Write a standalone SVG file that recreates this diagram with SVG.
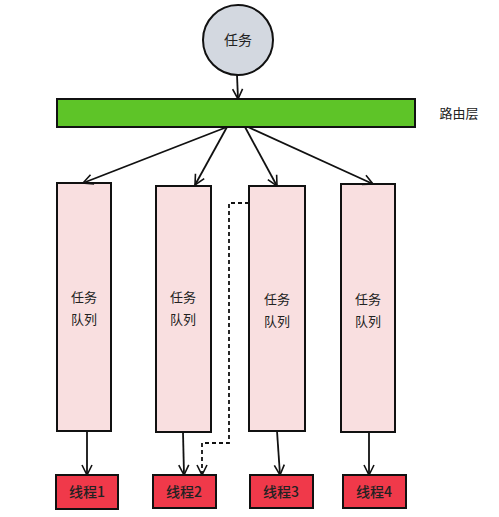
<svg xmlns="http://www.w3.org/2000/svg" width="499" height="517" viewBox="0 0 499 517">
<defs>
<marker id="ah" viewBox="0 0 12 12" refX="11" refY="6" markerWidth="12" markerHeight="12" markerUnits="userSpaceOnUse" orient="auto">
<path d="M1,1 L11,6 L1,11" fill="none" stroke="#111" stroke-width="1.6"/>
</marker>
</defs>
<style>
text{font-family:"Noto Sans CJK SC","Noto Sans",sans-serif;fill:#222;text-anchor:middle}
.q{fill:#f9dfe0;stroke:#111;stroke-width:2}
.t{fill:#f0394a;stroke:#111;stroke-width:2}
.c{fill:none;stroke:#111;stroke-width:1.8;marker-end:url(#ah)}
.qt{font-size:13px}
.tt{font-size:14px;font-weight:500}
</style>
<rect width="499" height="517" fill="#fff"/>
<g id="task">
<circle cx="238" cy="40" r="35" fill="#d3d8e0" stroke="#111" stroke-width="2"/>
<text x="238" y="45" font-size="14">任务</text>
</g>
<g id="router">
<rect x="57" y="99" width="358" height="28" fill="#5ec428" stroke="#111" stroke-width="2"/>
<text x="459" y="118" font-size="13">路由层</text>
</g>
<g id="q1"><rect class="q" x="57" y="183" width="54" height="248"/><text class="qt" x="84" y="302">任务</text><text class="qt" x="84" y="324">队列</text></g>
<g id="q2"><rect class="q" x="156" y="186" width="55" height="246"/><text class="qt" x="183" y="302">任务</text><text class="qt" x="183" y="324">队列</text></g>
<g id="q3"><rect class="q" x="249" y="186" width="56" height="245"/><text class="qt" x="277" y="304">任务</text><text class="qt" x="277" y="326">队列</text></g>
<g id="q4"><rect class="q" x="341" y="184" width="54" height="248"/><text class="qt" x="368" y="304">任务</text><text class="qt" x="368" y="326">队列</text></g>
<g id="t1"><rect class="t" x="56" y="475" width="62" height="34"/><text class="tt" x="87" y="497">线程1</text></g>
<g id="t2"><rect class="t" x="153" y="475" width="63" height="33"/><text class="tt" x="184" y="497">线程2</text></g>
<g id="t3"><rect class="t" x="250" y="475" width="63" height="33"/><text class="tt" x="281" y="497">线程3</text></g>
<g id="t4"><rect class="t" x="343" y="475" width="63" height="33"/><text class="tt" x="374" y="497">线程4</text></g>
<g id="connectors">
<path class="c" d="M237,75 L238,99"/>
<path class="c" d="M227,127 L83,183"/>
<path class="c" d="M227,127 L195,185"/>
<path class="c" d="M245,127 L277,186"/>
<path class="c" d="M248,127 L373,184"/>
<path class="c" d="M87,431 L87,475"/>
<path class="c" d="M183,432 L184,475"/>
<path class="c" d="M277,431 L280,475"/>
<path class="c" d="M369,432 L369,475"/>
<path class="c" d="M249,203 L229,203 L229,443 L202,443 L202,475" stroke-dasharray="4,3"/>
</g>
</svg>
